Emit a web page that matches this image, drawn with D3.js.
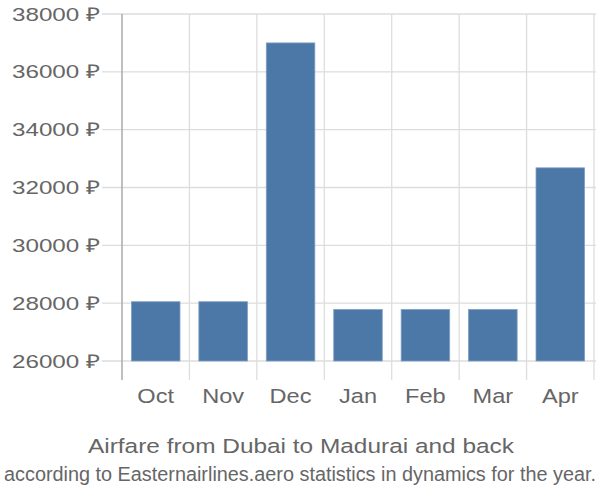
<!DOCTYPE html>
<html><head><meta charset="utf-8">
<script src="https://cdn.jsdelivr.net/npm/d3@7"></script>
<style>body{margin:0;background:#fff}svg{display:block}text{font-family:"Liberation Sans",Arial,sans-serif}</style>
</head><body>
<script>
const months = ["Oct","Nov","Dec","Jan","Feb","Mar","Apr"];
const prices = [28050, 28050, 37000, 27780, 27780, 27780, 32680];
const yTicks = [26000, 28000, 30000, 32000, 34000, 36000, 38000];
const title = "Airfare from Dubai to Madurai and back";
const subtitle = "according to Easternairlines.aero statistics in dynamics for the year.";

(function () {
const W = 600, H = 500;
const pLeft = 122, pRight = 594, pTop = 14, pBase = 361, axisBottom = 380;
const svg = d3.select("body").append("svg").attr("width", W).attr("height", H);

const x = d3.scaleBand().domain(months).range([pLeft, pRight]).paddingInner(0.28).paddingOuter(0.14);
const xb = d3.scaleBand().domain(months).range([pLeft, pRight]);
const y = d3.scaleLinear().domain([26000, 38000]).range([pBase, pTop]);

svg.append("g").selectAll("line").data(yTicks).join("line")
  .attr("x1", 102).attr("x2", 596)
  .attr("y1", d => y(d)).attr("y2", d => y(d))
  .attr("stroke", "#dddddd").attr("stroke-width", 1.3);

const vx = months.map(m => xb(m)).concat([pRight]);
svg.append("g").selectAll("line").data(vx.slice(1)).join("line")
  .attr("x1", d => d).attr("x2", d => d)
  .attr("y1", pTop).attr("y2", axisBottom)
  .attr("stroke", "#dddddd").attr("stroke-width", 1.3);

svg.append("line").attr("x1", pLeft).attr("x2", pLeft).attr("y1", pTop).attr("y2", axisBottom)
  .attr("stroke", "#aaaaaa").attr("stroke-width", 1.5);

svg.append("g").selectAll("rect").data(prices).join("rect")
  .attr("x", (d, i) => x(months[i]))
  .attr("width", x.bandwidth())
  .attr("y", d => y(d))
  .attr("height", d => pBase - y(d))
  .attr("fill", "#4c78a8")
  .attr("stroke", "#7f9fc4").attr("stroke-width", 0.8);

svg.append("g").selectAll("text").data(yTicks).join("text")
  .attr("x", 100).attr("y", d => y(d)).attr("dy", "0.35em")
  .attr("text-anchor", "end").attr("fill", "#666").attr("font-size", 19)
  .attr("textLength", 88).attr("lengthAdjust", "spacingAndGlyphs")
  .text(d => d + " ₽");

svg.append("g").selectAll("text").data(months).join("text")
  .attr("x", m => xb(m) + xb.bandwidth() / 2).attr("y", 403)
  .attr("text-anchor", "middle").attr("fill", "#666").attr("font-size", 20.5)
  .text(d => d)
  .each(function () {
    const L = this.getComputedTextLength();
    d3.select(this).attr("textLength", L * 1.15).attr("lengthAdjust", "spacingAndGlyphs");
  });

svg.append("text").attr("x", 301).attr("y", 453).attr("text-anchor", "middle")
  .attr("fill", "#666").attr("font-size", 20.5)
  .attr("textLength", 426).attr("lengthAdjust", "spacingAndGlyphs").text(title);
svg.append("text").attr("transform", "translate(300,481) scale(1,1.13)")
  .attr("text-anchor", "middle")
  .attr("fill", "#666").attr("font-size", 18)
  .attr("textLength", 592).attr("lengthAdjust", "spacingAndGlyphs").text(subtitle);
})();
</script>
</body></html>
